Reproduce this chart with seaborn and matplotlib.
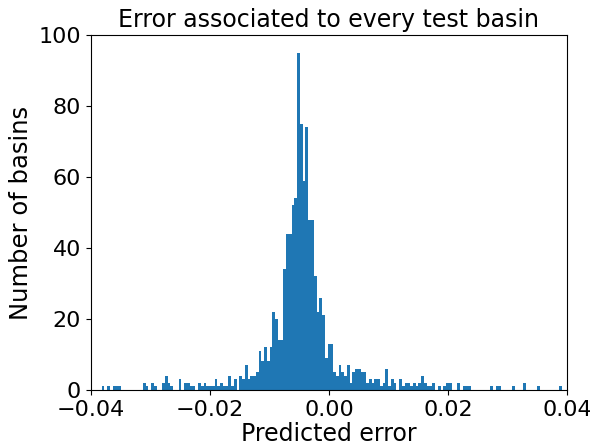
import numpy as np
import pandas as pd
import seaborn as sns
import matplotlib
matplotlib.use('Agg')
import matplotlib.pyplot as plt

# histogram: first bin edge, bin width, count per bin
first_edge = -0.0382
bin_width = 0.000463
counts_left = [1, 0, 1, 0, 1, 1, 1, 0,
               0, 0, 0, 0, 0, 0, 0,
               2, 1, 0, 2, 1, 0, 0,
               2, 4, 2, 1, 0, 0, 3, 0,
               2, 2, 1, 1, 0, 2, 1, 2,
               1, 1, 1, 3, 1, 2, 1, 1,
               4, 1, 3, 0, 4, 3, 7, 3,
               4, 4, 5, 11, 8, 12, 8, 12,
               22, 20, 14, 14, 34, 44, 44, 52, 54]
counts_right = [95, 75, 59, 74, 48, 48, 32, 22, 26, 21, 9, 13, 13,
                5, 4, 7, 5, 4, 7, 2, 5, 6, 6, 5, 5, 2, 3, 2, 3, 3, 1, 2, 6, 1, 3, 2, 0, 3,
                1, 2, 2, 1, 2, 1,
                2, 4, 2, 1, 1, 2, 0, 1, 0, 1, 2, 2, 0, 0, 2, 0, 1, 1, 1,
                0, 0, 0, 0, 0, 0, 0,
                1, 0, 1, 1,
                0, 0, 0, 0,
                1, 0, 0, 0,
                2, 0, 0, 0, 0,
                1, 0, 0, 0, 0, 0, 0, 0,
                1]
counts = counts_left + counts_right
x_ticks = [-0.04, -0.02, 0.00, 0.02, 0.04]
y_ticks = [0, 20, 40, 60, 80, 100]

edges = first_edge + bin_width * np.arange(len(counts) + 1)
df = pd.DataFrame({'error': (edges[:-1] + edges[1:]) / 2, 'n': counts})

fig = plt.figure(figsize=(5.9, 4.44), dpi=100)
ax = fig.add_axes([0.154, 0.122, 0.807, 0.799])
sns.histplot(data=df, x='error', weights='n', bins=edges.tolist(),
             color='#1f77b4', alpha=1, linewidth=0, ax=ax)

ax.set_xlim(-0.04, 0.04)
ax.set_ylim(0, 100)
ax.set_xticks(x_ticks)
ax.set_yticks(y_ticks)
ax.set_xticklabels(['\u22120.04', '\u22120.02', '0.00', '0.02', '0.04'])
ax.tick_params(labelsize=16)
ax.set_title('Error associated to every test basin', fontsize=17)
ax.set_xlabel('Predicted error', fontsize=17, labelpad=2)
ax.set_ylabel('Number of basins', fontsize=17.5)

fig.savefig('out.png', dpi=100)
